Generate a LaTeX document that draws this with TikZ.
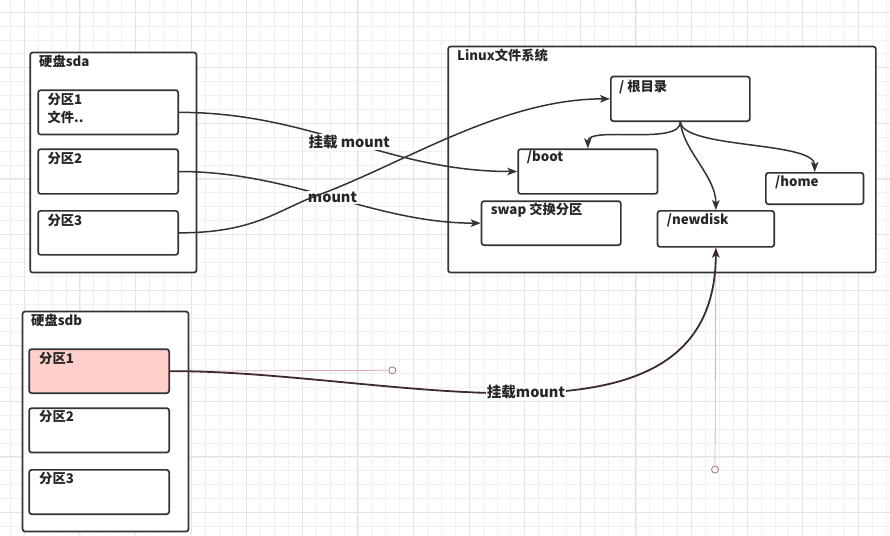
\documentclass[tikz,border=0pt]{standalone}
\usepackage{fontspec}
\setmainfont{Noto Sans CJK SC}
\usetikzlibrary{arrows.meta}
\definecolor{ln}{HTML}{333333}
\definecolor{gridminor}{HTML}{F0F0F0}
\definecolor{gridmajor}{HTML}{E4E4E4}
\definecolor{pinkfill}{HTML}{FFCFCA}
\definecolor{selline}{HTML}{3E2A2A}
\definecolor{handle}{HTML}{DDB0B0}
\definecolor{handlec}{HTML}{B07C7C}
\begin{document}
\begin{tikzpicture}[x=1pt,y=-1pt,
  box/.style={draw=ln, line width=1.7pt, fill=white, rounded corners=2.5pt, anchor=north west, inner sep=0pt},
  pbox/.style={box, fill=pinkfill},
  txt/.style={anchor=west, inner sep=0pt, font=\fontsize{13.3}{15}\selectfont\bfseries, text=black!85},
  lbl/.style={font=\fontsize{14.5}{16}\selectfont\bfseries, text=black!85, fill=white, inner sep=1pt},
  conn/.style={draw=ln, line width=1.5pt, -{Stealth[length=10pt,width=7.5pt,inset=2.5pt]}},
  hline/.style={draw=handle, line width=0.8pt},
  hdot/.style={circle, draw=handlec, fill=white, line width=0.9pt, minimum size=7pt, inner sep=0pt}]
\useasboundingbox (0,0) rectangle (890,535);
\fill[white] (0,0) rectangle (890,535);
% grid
\foreach \i in {0,...,63} {
  \pgfmathsetmacro{\xx}{10.4+13.9*\i}
  \draw[gridminor, line width=0.7pt] (\xx,0) -- (\xx,535);
}
\foreach \j in {0,...,38} {
  \pgfmathsetmacro{\yy}{12.1+13.9*\j}
  \draw[gridminor, line width=0.7pt] (0,\yy) -- (890,\yy);
}
\foreach \i in {0,...,15} {
  \pgfmathsetmacro{\xx}{24.3+55.6*\i}
  \draw[gridmajor, line width=0.9pt] (\xx,0) -- (\xx,535);
}
\foreach \j in {0,...,9} {
  \pgfmathsetmacro{\yy}{12.1+55.6*\j}
  \draw[gridmajor, line width=0.9pt] (0,\yy) -- (890,\yy);
}
% disk sda
\node[box, minimum width=166.4pt, minimum height=220pt] (sda) at (29.3,51.7) {};
\node[txt] (sdat) at (39,61) {硬盘sda};
\node[box, minimum width=140pt, minimum height=44.4pt] (a1) at (37.3,89.3) {};
\node[box, minimum width=140pt, minimum height=44.7pt] (a2) at (37.3,148.3) {};
\node[box, minimum width=140pt, minimum height=44pt] (a3) at (37.3,210) {};
\node[txt] (a1t) at (47.3,100) {分区1};
\node[txt] (a1u) at (47.3,117.5) {文件..};
\node[txt] (a2t) at (47.3,158.3) {分区2};
\node[txt] (a3t) at (47.3,221) {分区3};
% linux fs
\node[box, minimum width=427.7pt, minimum height=226pt] (fs) at (447.3,45.7) {};
\node[txt] (fst) at (457,55.7) {Linux文件系统};
\node[box, minimum width=139pt, minimum height=44.6pt] (root) at (610,75.7) {};
\node[box, minimum width=139.4pt, minimum height=44.7pt] (boot) at (517.3,148.3) {};
\node[box, minimum width=139.3pt, minimum height=44pt] (swap) at (480.7,200.3) {};
\node[box, minimum width=97.7pt, minimum height=31.3pt] (home) at (765,172) {};
\node[box, minimum width=116.6pt, minimum height=36pt] (newdisk) at (656.7,210) {};
\node[txt] (roott) at (619,86.7) {/ 根目录};
\node[txt] (boott) at (526.7,157.3) {/boot};
\node[txt] (swapt) at (490.7,210) {swap 交换分区};
\node[txt] (homet) at (775,182.3) {/home};
\node[txt] (newdiskt) at (666.7,220) {/newdisk};
% disk sdb
\node[box, minimum width=166pt, minimum height=220pt] (sdb) at (21.7,310.7) {};
\node[txt] (sdbt) at (31,320) {硬盘sdb};
\node[pbox, minimum width=140pt, minimum height=44pt] (b1) at (28.3,348.3) {};
\node[box, minimum width=140pt, minimum height=44.4pt] (b2) at (28.3,407.3) {};
\node[box, minimum width=140pt, minimum height=44.3pt] (b3) at (28.3,469) {};
\node[txt] (b1t) at (39,358.3) {分区1};
\node[txt] (b2t) at (39,416.7) {分区2};
\node[txt] (b3t) at (39,479) {分区3};
% connectors inside fs
\draw[conn] (root.south) .. controls +(0,24) and +(0,-23) .. (boot.north);
\draw[conn] (root.south) .. controls +(3,27) and +(0,-31) .. (home.north);
\draw[conn] (root.south) .. controls +(3,29) and +(0,-34) .. (newdisk.north);
% connectors from sda
\draw[conn] (a1.east) .. controls +(133,0) and +(-130,0) .. node[lbl, pos=0.5] (l1) {挂载 mount} (boot.west);
\draw[conn] (a2.east) .. controls +(113,0) and +(-106,0) .. node[lbl, pos=0.5] (l2) {mount} (swap.west);
\coordinate (m3) at (313,197);
\draw[conn] (a3.east) .. controls +(73,0) and +(-38,15) .. (m3) .. controls +(87,-31) and +(-110,0) .. (root.west);
% selected connector from sdb
\node[hdot] (h1) at (392.3,370.3) {};
\node[hdot] (h2) at (715,469.5) {};
\draw[hline] (b1.east) -- (h1.west);
\draw[hline] (newdisk.south) -- (h2.north);
\draw[conn, draw=selline, line width=1.8pt] (b1.east) .. controls (h1.center) and (h2.center) .. node[lbl, pos=0.5] (l3) {挂载mount} (newdisk.south);
\end{tikzpicture}
\end{document}
